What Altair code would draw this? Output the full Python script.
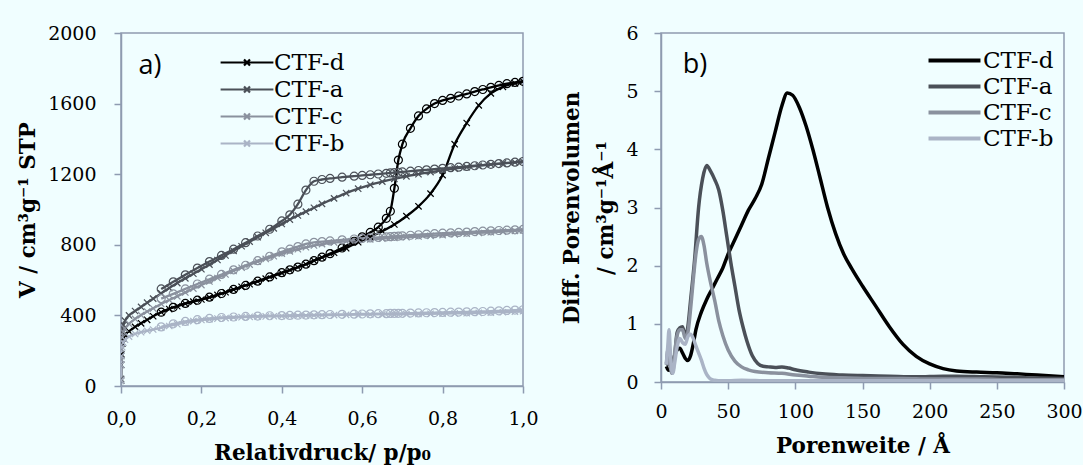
import altair as alt
import pandas as pd

SERIES = ["CTF-d", "CTF-a", "CTF-c", "CTF-b"]
COLORS = ["#000000", "#4B5058", "#8A919E", "#AAB4C6"]
AXC = "#8E9BB0"
BG = "#F0FEFF"

# ---------- panel a: isotherms ----------
A_P = [0.0001, 0.0005, 0.001, 0.003, 0.006, 0.01, 0.02, 0.035, 0.05, 0.065,
       0.08, 0.1, 0.12, 0.14, 0.16, 0.18, 0.2, 0.22, 0.24, 0.26,
       0.28, 0.3, 0.32, 0.34, 0.36, 0.38, 0.4, 0.42, 0.44, 0.46,
       0.48, 0.5, 0.53, 0.56, 0.59, 0.62, 0.65, 0.68, 0.71, 0.74,
       0.77, 0.8, 0.83, 0.86, 0.89, 0.92, 0.95, 0.98, 1.0]
D_ADS = [30, 120, 180, 240, 270, 290, 310, 335, 355, 375,
         395, 418, 436, 452, 466, 478, 490, 502, 516, 531,
         546, 562, 577, 592, 608, 624, 640, 656, 673, 690,
         710, 728, 755, 781, 815, 845, 877, 915, 962, 1018,
         1090, 1195, 1370, 1490, 1590, 1658, 1695, 1715, 1726]
A_ADS = [40, 170, 240, 310, 345, 370, 400, 425, 448, 472,
         495, 525, 555, 583, 610, 636, 662, 688, 714, 740,
         766, 792, 818, 843, 868, 893, 918, 943, 966, 988,
         1010, 1032, 1063, 1093, 1118, 1140, 1158, 1174, 1188, 1200,
         1212, 1222, 1232, 1240, 1248, 1255, 1261, 1267, 1272]
C_ADS = [35, 150, 210, 275, 305, 325, 352, 380, 402, 422,
         440, 465, 487, 508, 530, 552, 572, 592, 612, 632,
         652, 670, 688, 705, 720, 735, 750, 763, 775, 786,
         796, 804, 813, 820, 826, 831, 835, 839, 843, 847,
         851, 855, 859, 863, 867, 871, 875, 879, 882]
B_ADS = [30, 120, 170, 220, 245, 262, 280, 295, 305, 313,
         320, 330, 340, 350, 360, 368, 374, 378, 382, 385,
         388, 390, 392, 393, 394, 395, 396, 397, 398, 399,
         400, 401, 402, 403, 404, 405, 406, 406, 407, 408,
         409, 410, 411, 412, 414, 416, 418, 421, 424]

D_P = [0.1, 0.13, 0.16, 0.19, 0.22, 0.25, 0.28, 0.31, 0.34, 0.37,
       0.4, 0.42, 0.44, 0.46, 0.48, 0.5, 0.52, 0.55, 0.58, 0.6,
       0.62, 0.64, 0.66, 0.67, 0.68, 0.69, 0.7, 0.72, 0.74, 0.76,
       0.78, 0.8, 0.82, 0.84, 0.86, 0.88, 0.9, 0.92, 0.94, 0.96,
       0.98, 1.0]
D_DES = [418, 446, 468, 486, 503, 524, 547, 570, 594, 618,
         642, 658, 674, 690, 710, 730, 750, 782, 820, 845,
         870, 900, 950, 990, 1120, 1280, 1370, 1460, 1530, 1570,
         1600, 1618, 1630, 1643, 1655, 1668, 1680, 1692, 1703, 1713,
         1720, 1726]
A_DES = [550, 590, 630, 668, 705, 740, 775, 812, 850, 888,
         935, 970, 1030, 1110, 1160, 1170, 1176, 1183, 1189, 1193,
         1197, 1201, 1205, 1207, 1209, 1211, 1213, 1217, 1221, 1225,
         1229, 1233, 1237, 1240, 1244, 1248, 1252, 1256, 1260, 1264,
         1268, 1272]
C_DES = [495, 522, 550, 578, 605, 632, 658, 684, 710, 735,
         760, 775, 790, 805, 814, 818, 822, 828, 833, 836,
         839, 842, 845, 846, 848, 849, 851, 854, 857, 860,
         863, 866, 868, 870, 872, 875, 877, 879, 881, 883,
         885, 887]
B_DES = [335, 352, 366, 376, 383, 388, 391, 394, 396, 398,
         399, 400, 401, 402, 403, 404, 405, 406, 407, 408,
         409, 410, 410, 411, 411, 412, 412, 413, 414, 415,
         416, 417, 418, 419, 420, 421, 422, 424, 426, 428,
         430, 432]

# ---------- panel b: pore size distributions ----------
PSD_D_X = [4, 5, 6, 8, 10, 12, 14, 16, 18, 20, 22, 24, 26, 30, 34, 38, 42, 46, 50, 55,
           60, 65, 70, 75, 80, 85, 90, 94, 98, 103, 108, 113, 118, 124, 130, 136, 142, 150, 160, 170,
           180, 190, 200, 210, 220, 235, 250, 265, 280, 300]
PSD_D_Y = [0.27, 0.22, 0.2, 0.28, 0.45, 0.55, 0.58, 0.5, 0.41, 0.37, 0.45, 0.65, 0.9, 1.2, 1.42, 1.6, 1.78, 1.96, 2.2, 2.45,
           2.7, 2.95, 3.15, 3.4, 3.85, 4.3, 4.75, 4.97, 4.93, 4.72, 4.4, 4.0, 3.55, 3.0, 2.55, 2.2, 1.95, 1.65, 1.3, 0.95,
           0.65, 0.44, 0.31, 0.23, 0.19, 0.17, 0.16, 0.14, 0.12, 0.09]
PSD_A_X = [4, 5, 6, 7, 8, 9, 10, 12, 14, 16, 18, 20, 22, 25, 28, 31, 34, 37, 40, 43,
           46, 49, 52, 55, 58, 61, 64, 68, 72, 76, 80, 85, 90, 95, 100, 110, 120, 135, 150, 170,
           190, 210, 220, 240, 260, 280, 300]
PSD_A_Y = [0.35, 0.3, 0.5, 0.35, 0.2, 0.25, 0.4, 0.85, 0.93, 0.95, 0.8, 0.95, 1.4, 2.1, 3.0, 3.5, 3.72, 3.62, 3.48, 3.3,
           2.95, 2.5, 2.05, 1.65, 1.25, 0.95, 0.7, 0.45, 0.32, 0.27, 0.26, 0.25, 0.26, 0.24, 0.21, 0.17, 0.14, 0.12, 0.11, 0.1,
           0.09, 0.1, 0.1, 0.09, 0.08, 0.07, 0.06]
PSD_C_X = [4, 5, 6, 7, 8, 9, 10, 12, 14, 16, 18, 20, 22, 24, 26, 28, 30, 32, 34, 37,
           40, 43, 46, 50, 55, 60, 65, 70, 80, 90, 100, 110, 120, 140, 160, 180, 200, 220, 240, 260,
           280, 300]
PSD_C_Y = [0.3, 0.55, 0.4, 0.25, 0.15, 0.2, 0.45, 0.8, 0.9, 0.9, 0.75, 0.85, 1.25, 1.75, 2.2, 2.45, 2.5, 2.35, 2.05, 1.7,
           1.4, 1.05, 0.8, 0.55, 0.36, 0.26, 0.21, 0.18, 0.16, 0.15, 0.12, 0.1, 0.08, 0.07, 0.06, 0.06, 0.05, 0.05, 0.05, 0.04,
           0.04, 0.04]
PSD_B_X = [4, 5, 6, 7, 8, 9, 10, 12, 14, 16, 18, 20, 22, 24, 26, 28, 30, 32, 34, 36,
           38, 40, 45, 50, 60, 80, 100, 150, 200, 220, 250, 300]
PSD_B_Y = [0.3, 0.6, 0.9, 0.5, 0.2, 0.15, 0.3, 0.6, 0.75, 0.68, 0.65, 0.78, 0.82, 0.75, 0.62, 0.5, 0.38, 0.24, 0.13, 0.07,
           0.04, 0.03, 0.02, 0.02, 0.03, 0.02, 0.02, 0.02, 0.02, 0.03, 0.02, 0.02]

ADS = [D_ADS, A_ADS, C_ADS, B_ADS]
DES = [D_DES, A_DES, C_DES, B_DES]
PSD = [(PSD_D_X, PSD_D_Y), (PSD_A_X, PSD_A_Y), (PSD_C_X, PSD_C_Y), (PSD_B_X, PSD_B_Y)]

iso_rows = []
for s, ads, des in zip(SERIES, ADS, DES):
    for p, v in zip(A_P, ads):
        iso_rows.append({"series": s, "branch": "ads", "p": p, "V": v})
    for p, v in zip(D_P, des):
        iso_rows.append({"series": s, "branch": "des", "p": p, "V": v})
iso = pd.DataFrame(iso_rows)

psd_rows = []
for s, (xs, ys) in zip(SERIES, PSD):
    for x, y in zip(xs, ys):
        psd_rows.append({"series": s, "w": x, "dv": y})
psd = pd.DataFrame(psd_rows)

cscale = alt.Scale(domain=SERIES, range=COLORS)

LEFT_SYM = "M-4.4,0L4.4,0M-0.5,-0.5L0.5,0.5M-0.5,0.5L0.5,-0.5"
RIGHT_SYM = "M-4.33,0L4.33,0"
XPATH = "M-1,-1L1,1M-1,1L1,-1"

leg_left = alt.Legend(title=None, orient="none", legendX=114.5, legendY=18, padding=0,
                      symbolType=LEFT_SYM, symbolSize=144, symbolStrokeWidth=2.2,
                      labelFont="DejaVu Serif", labelFontSize=23, labelColor="#000000",
                      labelOffset=15.5, rowPadding=3)
leg_right = alt.Legend(title=None, orient="none", legendX=282, legendY=16, padding=0,
                       symbolType=RIGHT_SYM, symbolSize=144, symbolStrokeWidth=4,
                       labelFont="DejaVu Serif", labelFontSize=23, labelColor="#000000",
                       labelOffset=17, rowPadding=2)

xa = alt.X("p:Q", scale=alt.Scale(domain=[0, 1]),
           axis=alt.Axis(values=[0, 0.2, 0.4, 0.6, 0.8, 1.0],
                         labelExpr="replace(format(datum.value, '.1f'), '.', ',')",
                         title="Relativdruck/ p/p₀", labelPadding=16, titlePadding=14))
ya = alt.Y("V:Q", scale=alt.Scale(domain=[0, 2000]),
           axis=alt.Axis(values=[0, 400, 800, 1200, 1600, 2000], format="d",
                         title="V / cm³g⁻¹ STP", labelPadding=18, titlePadding=8))
col_l = alt.Color("series:N", scale=cscale, legend=leg_left, sort=SERIES)

base_l = alt.Chart(iso)
lines_l = base_l.mark_line(strokeWidth=2.3, interpolate="monotone", clip=True).encode(
    x=xa, y=ya, color=col_l, detail="branch:N")
pts_ads = base_l.transform_filter(alt.datum.branch == "ads").mark_point(
    shape=XPATH, size=40, filled=False, strokeWidth=1.2, clip=True, opacity=1).encode(
    x=xa, y=ya, color=col_l)
pts_des = base_l.transform_filter(alt.datum.branch == "des").mark_point(
    shape="circle", size=64, filled=False, strokeWidth=1.2, clip=True, opacity=1).encode(
    x=xa, y=ya, color=col_l)
lab_a = alt.Chart(pd.DataFrame({"t": ["a)"]})).mark_text(
    font="Open Sans", fontSize=27, align="center", baseline="middle", color="#000000").encode(
    x=alt.value(29), y=alt.value(33), text="t:N")
left = alt.layer(lines_l, pts_ads, pts_des, lab_a).properties(width=402, height=353)

xb = alt.X("w:Q", scale=alt.Scale(domain=[0, 300]),
           axis=alt.Axis(values=[0, 50, 100, 150, 200, 250, 300], format="d",
                         title="Porenweite / Å", labelPadding=13, titlePadding=14))
yb = alt.Y("dv:Q", scale=alt.Scale(domain=[0, 6]),
           axis=alt.Axis(values=[0, 1, 2, 3, 4, 5, 6], format="d",
                         title=["Diff. Porenvolumen", "/ cm³g⁻¹Å⁻¹"], titleLineHeight=34,
                         labelPadding=16, titlePadding=8))
col_r = alt.Color("series:N", scale=cscale, legend=leg_right, sort=SERIES)
lines_r = alt.Chart(psd).mark_line(strokeWidth=3.5, interpolate="monotone", clip=True).encode(
    x=xb, y=yb, color=col_r)
lab_b = alt.Chart(pd.DataFrame({"t": ["b)"]})).mark_text(
    font="Open Sans", fontSize=27, align="center", baseline="middle", color="#000000").encode(
    x=alt.value(34), y=alt.value(32), text="t:N")
right = alt.layer(lines_r, lab_b).properties(width=403, height=349)

chart = alt.hconcat(left, right, spacing=22).resolve_scale(color="independent").properties(
    padding={"left": 16, "top": 23, "right": 0, "bottom": 0},
    background=BG,
).configure_axis(
    domainColor=AXC, tickColor=AXC, domainWidth=1.5, tickWidth=1.5, tickSize=7,
    labelFont="DejaVu Serif", labelFontSize=19, labelColor="#000000",
    titleFont="DejaVu Serif", titleFontSize=21.5, titleFontWeight="bold", titleColor="#000000",
    grid=False, labelFlush=False, labelOverlap=False,
).configure_view(stroke=AXC, strokeWidth=1.5)

chart.save("out.html", embed_options={"renderer": "svg", "actions": False})
